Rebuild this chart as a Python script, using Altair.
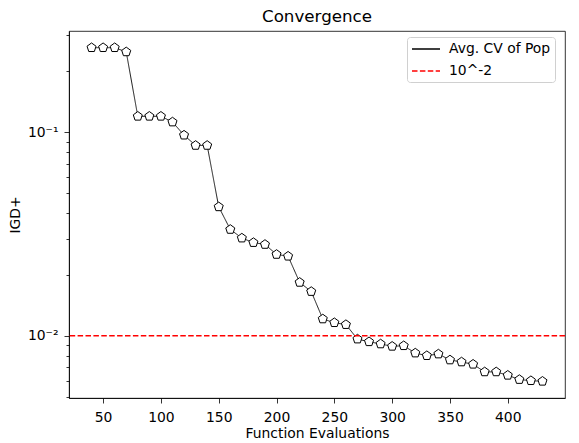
import altair as alt
import pandas as pd

# Data
evals = [40, 50, 60, 70, 80, 90, 100, 110, 120, 130, 140, 150, 160, 170, 180, 190,
         200, 210, 220, 230, 240, 250, 260, 270, 280, 290, 300, 310, 320, 330, 340,
         350, 360, 370, 380, 390, 400, 410, 420, 430]
igd = [0.260, 0.260, 0.260, 0.248, 0.1197, 0.1197, 0.1197, 0.1122, 0.0967, 0.0861,
       0.0861, 0.0430, 0.0333, 0.0302, 0.0287, 0.0281, 0.0251, 0.0246, 0.0183, 0.0165,
       0.0121, 0.0116, 0.01135, 0.00964, 0.00935, 0.00912, 0.00888, 0.00894, 0.00823,
       0.00799, 0.00814, 0.00761, 0.00744, 0.00725, 0.00665, 0.00665, 0.00640, 0.00610,
       0.00602, 0.00598]
series_names = ["Avg. CV of Pop", "10^-2"]
threshold = [0.01]
x_ticks = [50, 100, 150, 200, 250, 300, 350, 400]
y_ticks = [0.005, 0.006, 0.007, 0.008, 0.009, 0.01, 0.02, 0.03, 0.04, 0.05, 0.06,
           0.07, 0.08, 0.09, 0.1, 0.2, 0.3]

df = pd.DataFrame({"evals": evals, "igd": igd, "series": series_names[0]})
df_rule = pd.DataFrame({"igd": threshold, "series": [series_names[1]]})

FONT = "DejaVu Sans"

xscale = alt.Scale(domain=[20.5, 449.5], nice=False, zero=False)
yscale = alt.Scale(type="log", domain=[0.00495, 0.314], nice=False)

xaxis = alt.Axis(values=x_ticks, title="Function Evaluations", grid=False,
                 tickSize=5, labelPadding=7, titlePadding=3)
yaxis = alt.Axis(
    values=y_ticks, title="IGD+", grid=False,
    labelExpr="datum.value == 0.1 ? '10⁻¹' : (datum.value == 0.01 ? '10⁻²' : '')",
    tickSize={"condition": {"test": "datum.value == 0.1 || datum.value == 0.01", "value": 5}, "value": 3},
    labelPadding=6, labelOverlap=False, titlePadding=5,
)

color_scale = alt.Scale(domain=series_names, range=["black", "red"])
dash_scale = alt.Scale(domain=series_names, range=[[1, 0], [5.5, 2.4]])
legend = alt.Legend(
    title=None, orient="none", legendX=338, legendY=6,
    fillColor="white", strokeColor="#d0d0d0", cornerRadius=3, padding=4,
    symbolType="M-2,0L2,0", symbolSize=196, symbolStrokeWidth=1.3,
    symbolOffset=7, labelOffset=15,
    labelFont=FONT, labelFontSize=13.9, labelColor="black", rowPadding=7,
)

line = alt.Chart(df).mark_line(strokeWidth=0.9, color="black").encode(
    x=alt.X("evals:Q", scale=xscale, axis=xaxis),
    y=alt.Y("igd:Q", scale=yscale, axis=yaxis),
    color=alt.Color("series:N", scale=color_scale, legend=legend),
    strokeDash=alt.StrokeDash("series:N", scale=dash_scale, legend=legend),
)

pentagon = "M0,-1 L0.951,-0.309 L0.588,0.809 L-0.588,0.809 L-0.951,-0.309 Z"
points = alt.Chart(df).mark_point(
    shape=pentagon, size=90, filled=False, fill="white", fillOpacity=1,
    stroke="black", strokeWidth=1, opacity=1
).encode(
    x=alt.X("evals:Q", scale=xscale),
    y=alt.Y("igd:Q", scale=yscale),
)

rule = alt.Chart(df_rule).mark_rule(strokeWidth=1.6).encode(
    y=alt.Y("igd:Q", scale=yscale),
    color=alt.Color("series:N", scale=color_scale, legend=legend),
    strokeDash=alt.StrokeDash("series:N", scale=dash_scale, legend=legend),
)

chart = alt.layer(line, points, rule).properties(
    width=496, height=367,
    title=alt.TitleParams("Convergence", font=FONT, fontSize=16.7, fontWeight="normal",
                          anchor="middle", frame="group", offset=2, color="black"),
    autosize=alt.AutoSizeParams(type="none"),
    padding={"left": 61, "top": 23, "right": 6, "bottom": 46},
).configure(
    font=FONT,
).configure_view(
    stroke="black", strokeWidth=0.8,
).configure_axis(
    labelFont=FONT, titleFont=FONT, labelFontSize=13.9, titleFontSize=13.9,
    titleFontWeight="normal", labelColor="black", titleColor="black",
    tickColor="black", domainColor="black", tickWidth=0.8, domainWidth=0.8,
)

chart.save("out.html", embed_options={"renderer": "svg", "actions": False})
